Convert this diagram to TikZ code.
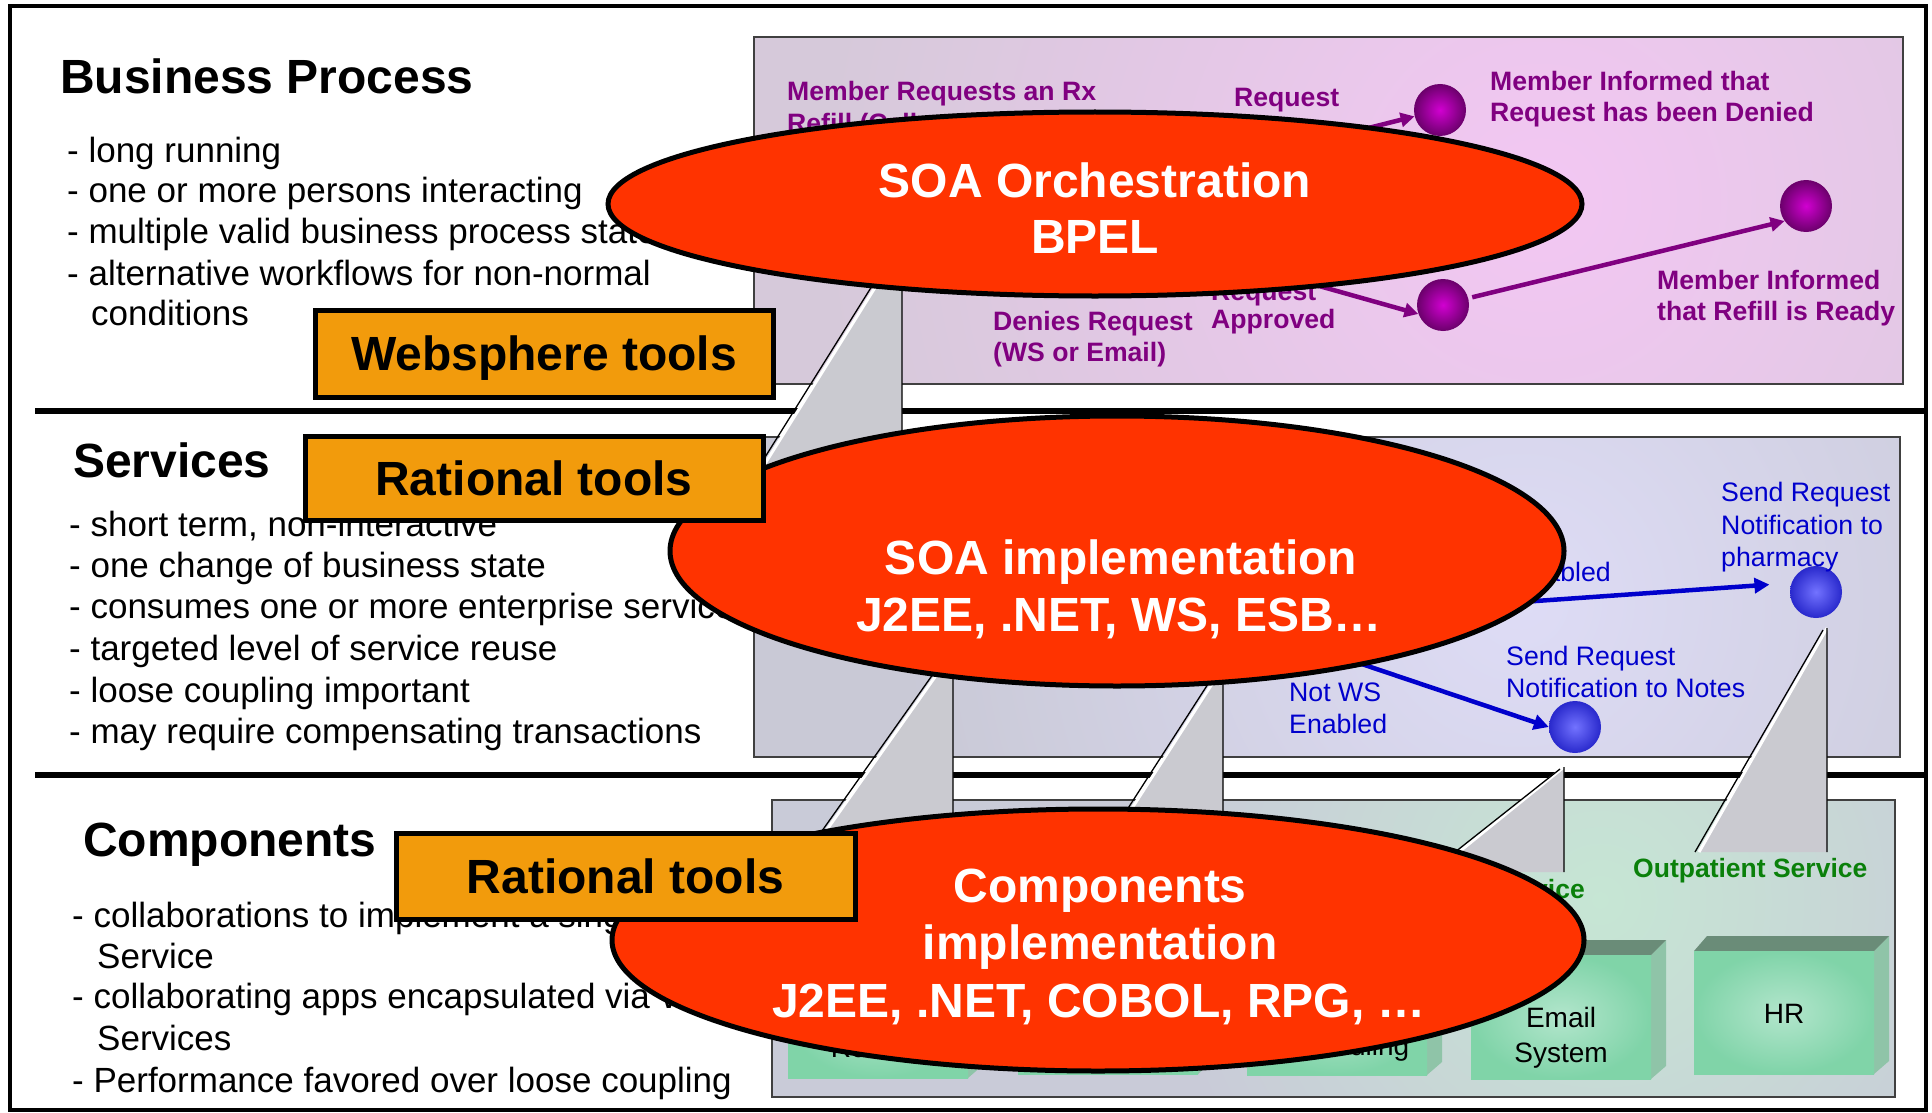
\documentclass[tikz,border=0pt]{standalone}
\usepackage{fontspec}
\setmainfont{Liberation Sans}
\usetikzlibrary{arrows.meta,shapes.geometric}
\definecolor{soared}{RGB}{255,51,0}
\definecolor{toolor}{RGB}{242,155,12}
\definecolor{bpurple}{RGB}{128,0,128}
\definecolor{sblue}{RGB}{0,0,204}
\definecolor{cgreen}{RGB}{10,128,10}
\definecolor{pnlA}{RGB}{214,201,218}
\definecolor{pnlAc}{RGB}{243,199,243}
\definecolor{pnlB}{RGB}{201,201,214}
\definecolor{pnlBc}{RGB}{222,220,246}
\definecolor{pnlC}{RGB}{201,203,216}
\definecolor{pnlCc}{RGB}{198,230,212}
\definecolor{wedgec}{RGB}{202,202,208}
\definecolor{ctop}{RGB}{106,140,120}
\definecolor{cside}{RGB}{143,196,168}
\pgfdeclareradialshading{glowA}{\pgfpoint{0bp}{0bp}}{color(0bp)=(pnlAc);color(25bp)=(pnlA);color(50bp)=(pnlA)}
\pgfdeclareradialshading{glowB}{\pgfpoint{0bp}{0bp}}{color(0bp)=(pnlBc);color(25bp)=(pnlB);color(50bp)=(pnlB)}
\pgfdeclareradialshading{glowC}{\pgfpoint{0bp}{0bp}}{color(0bp)=(pnlCc);color(25bp)=(pnlC);color(50bp)=(pnlC)}
\pgfdeclareradialshading{pballsh}{\pgfpoint{0bp}{0bp}}{rgb(0bp)=(0.82,0,0.82);rgb(25bp)=(0.42,0,0.42);rgb(50bp)=(0.42,0,0.42)}
\pgfdeclareradialshading{bballsh}{\pgfpoint{0bp}{0bp}}{rgb(0bp)=(0.45,0.45,1);rgb(25bp)=(0.16,0.16,0.8);rgb(50bp)=(0.16,0.16,0.8)}
\pgfdeclareradialshading{gface}{\pgfpoint{0bp}{0bp}}{rgb(0bp)=(0.7,0.9,0.8);rgb(25bp)=(0.5,0.83,0.66);rgb(50bp)=(0.5,0.83,0.66)}
\tikzset{
  head/.style={anchor=base west,inner sep=0,font=\bfseries\fontsize{48}{48}\selectfont},
  itemtxt/.style={anchor=base west,inner sep=0,font=\fontsize{35}{35}\selectfont},
  plabel/.style={anchor=base west,inner sep=0,text=bpurple,font=\bfseries\fontsize{26.6}{26.6}\selectfont},
  slabel/.style={anchor=base west,inner sep=0,text=sblue,font=\fontsize{26.7}{26.7}\selectfont},
  glabel/.style={anchor=base west,inner sep=0,text=cgreen,font=\bfseries\fontsize{26.5}{26.5}\selectfont},
  clabel/.style={anchor=base,inner sep=0,font=\fontsize{28}{28}\selectfont},
  soa/.style={ellipse,draw,line width=5pt,fill=soared,inner sep=0},
  etext/.style={anchor=base,inner sep=0,text=white,font=\bfseries\fontsize{48}{48}\selectfont},
  tools/.style={draw,line width=5pt,fill=toolor,inner sep=0,text depth=0pt,font=\bfseries\fontsize{48}{48}\selectfont},
  pball/.style={circle,minimum size=52pt,inner sep=0,shading=pballsh},
  bball/.style={circle,minimum size=52pt,inner sep=0,shading=bballsh},
  parrow/.style={draw=bpurple,line width=4.5pt,-{Triangle[length=14pt,width=14pt]}},
  sarrow/.style={draw=sblue,line width=4.5pt,-{Triangle[length=15pt,width=15pt]}}
}
\begin{document}
\begin{tikzpicture}[x=1pt,y=-1pt]
	\useasboundingbox (0,0) rectangle (1932,1113);
	\fill[white] (0,0) rectangle (1932,1113);
	\draw[line width=4pt] (10,6) rectangle (1926,1110);
	\draw[line width=6pt] (35,411) -- (1926,411) (35,775) -- (1926,775);
	\foreach \x/\y/\X/\Y/\c/\gx/\gy/\r in {754/37/1903/384/A/1540/200/720,754/437/1900/757/B/1520/600/620,772/800/1895/1097/C/1600/900/440}{
		\begin{scope}
		\clip (\x,\y) rectangle (\X,\Y);
		\fill[fill=pnl\c] (\x,\y) rectangle (\X,\Y);
		\shade[shading=glow\c] (\gx,\gy) circle (\r pt);
		\end{scope}
		\draw[line width=1.8pt,black!75] (\x,\y) rectangle (\X,\Y);
	}
	\path
	(60,94) node[head] (bp) {Business Process}
	(73,477) node[head] (sv) {Services}
	(83,856) node[head] (cp) {Components};
	\foreach \y/\t [count=\i] in {162/long running,202/one or more persons interacting,243/multiple valid business process states,285/alternative workflows for non-normal}
	\node[itemtxt] (bp-\i) at (67,\y) {- \t};
	\node[itemtxt] (bp-5) at (91,325) {conditions};
	\foreach \y/\t [count=\i] in {536/{short term, non-interactive},577/one change of business state,618/consumes one or more enterprise services,660/targeted level of service reuse,702/loose coupling important,743/may require compensating transactions}
	\node[itemtxt] (sv-\i) at (69,\y) {- \t};
	\path
	(72,927) node[itemtxt] (cp-1) {- collaborations to implement a single}
	(97,968) node[itemtxt] (cp-2) {Service}
	(72,1008) node[itemtxt] (cp-3) {- collaborating apps encapsulated via Web}
	(97,1050) node[itemtxt] (cp-4) {Services}
	(72,1092) node[itemtxt] (cp-5) {- Performance favored over loose coupling};
	% business process panel
	\path
	(1046,209) coordinate (decide)
	(1440,110) node[pball] (m1) {}
	(1806,206) node[pball] (m2) {}
	(1443,305) node[pball] (m3) {}
	(787,101) node[plabel] (ask-1) {Member Requests an Rx}
	(787,132) node[plabel] (ask-2) {Refill (Call}
	(1234,107) node[plabel] (deny) {Request}
	(1490,91) node[plabel] (told-1) {Member Informed that}
	(1490,122) node[plabel] (told-2) {Request has been Denied}
	(1657,289) node[plabel] (ready-1) {Member Informed}
	(1657,320) node[plabel] (ready-2) {that Refill is Ready}
	(993,330) node[plabel] (rx-1) {Denies Request}
	(993,361) node[plabel] (rx-2) {(WS or Email)}
	(1211,300) node[plabel] (ok-1) {Request}
	(1211,328) node[plabel] (ok-2) {Approved};
	\draw[parrow] (decide) -- (m1);
	\draw[parrow] (decide) -- (m3.200);
	\draw[parrow,shorten <=4pt] (m3.15) -- (m2.215);
	% services panel
	\path
	(1237,622) coordinate (route)
	(1816,592) node[bball] (s1) {}
	(1575,727) node[bball] (s2) {}
	(1721,501) node[slabel] (ph-1) {Send Request}
	(1721,534) node[slabel] (ph-2) {Notification to}
	(1721,566) node[slabel] (ph-3) {pharmacy}
	(1611,581) node[slabel,anchor=base east] (wse) {WS Enabled}
	(1289,701) node[slabel] (nws-1) {Not WS}
	(1289,733) node[slabel] (nws-2) {Enabled}
	(1506,665) node[slabel] (nt-1) {Send Request}
	(1506,697) node[slabel] (nt-2) {Notification to Notes};
	\draw[sarrow,shorten >=22pt] (route) -- (s1.160);
	\draw[sarrow] (route) -- (s2.west);
	% components panel
	\foreach \bx/\tp/\bt in {788/955/1078,1018/952/1074,1247/952/1075,1471/955/1079,1694/951/1074}{
		\fill[cside] (\bx+180,\tp) -- (\bx+195,\tp-15) -- (\bx+195,\bt-13) -- (\bx+180,\bt) -- cycle;
		\fill[ctop] (\bx,\tp) -- (\bx+13,\tp-15) -- (\bx+195,\tp-15) -- (\bx+180,\tp) -- cycle;
		\shade[shading=gface] (\bx,\tp) rectangle (\bx+180,\bt);
	}
	\path
	(879,1057) node[clabel] (rt) {Routing}
	(1340,1055) node[clabel] (sch) {Scheduling}
	(1561,1027) node[clabel] (em-1) {Email}
	(1561,1062) node[clabel] (em-2) {System}
	(1784,1023) node[clabel] (hr) {HR}
	(1633,877) node[glabel] (out) {Outpatient Service}
	(1585,898) node[glabel,anchor=base east] (nsv) {Service};
	% callout wedges
	\foreach \sx/\ty/\rx/\by/\px in {886/270/902/470/761,947/660/953/845/816,1221/670/1223/830/1118}{
		\fill[wedgec] (\sx,\ty) -- (\rx,\ty) -- (\rx,\by) -- (\px,\by) -- cycle;
		\draw[white,line width=3pt] (\sx,\ty) -- (\px,\by);
		\draw[line width=1.3pt] (\sx-4,\ty) -- (\px-4,\by) (\rx,\ty) -- (\rx,\by);
	}
	\foreach \ax/\ay/\by/\px/\py in {1564/767/872/1449/860,1827/628/852/1699/852}{
		\fill[wedgec] (\ax,\ay) -- (\ax,\by) -- (\px,\by) -- (\px,\py) -- cycle;
		\draw[white,line width=3pt] (\ax,\ay) -- (\px,\py);
		\draw[line width=1.3pt] (\ax-4,\ay+2) -- (\px-4,\py) (\ax,\ay) -- (\ax,\by);
	}
	% ellipses
	\node[soa,minimum width=974pt,minimum height=184pt] (orch) at (1095,204) {};
	\node[soa,minimum width=894pt,minimum height=270pt] (impl) at (1117,551) {};
	\node[soa,minimum width=972pt,minimum height=262pt] (comp) at (1098,940) {};
	\path
	(1095,197) node[etext] (orch-1) {SOA Orchestration}
	(1095,253) node[etext] (orch-2) {BPEL}
	(1121,574) node[etext] (impl-1) {SOA implementation}
	(1119,631) node[etext] (impl-2) {J2EE, .NET, WS, ESB…}
	(1100,902) node[etext] (comp-1) {Components}
	(1100,959) node[etext] (comp-2) {implementation}
	(1099,1017) node[etext] (comp-3) {J2EE, .NET, COBOL, RPG, …};
	% tool boxes
	\node[tools,minimum width=458pt,minimum height=87pt] (ws) at (544,353.5) {Websphere tools};
	\node[tools,minimum width=458pt,minimum height=84pt] (rat1) at (534,478) {Rational tools};
	\node[tools,minimum width=459pt,minimum height=86pt] (rat2) at (625.5,876) {Rational tools};
\end{tikzpicture}
\end{document}
